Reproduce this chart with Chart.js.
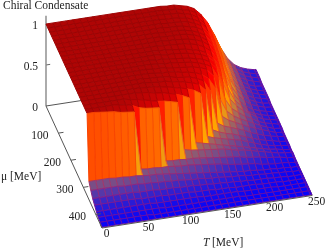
<!DOCTYPE html>
<html>
<head>
<meta charset="utf-8">
<title>Chiral Condensate</title>
<script src="https://cdn.jsdelivr.net/npm/chart.js@4"></script>
<style>
  html, body { margin: 0; padding: 0; background: #fff; }
  canvas { display: block; }
</style>
</head>
<body>
<canvas id="surface" width="327" height="250"></canvas>
<script>
const temps = [0,8,16,24,32,40,48,56,64,72,80,88,96,104,112,120,128,136,144,152,160,168,176,184,192,200,208,216,224,232,240,248,250];
const mus = [0,15,30,45,60,75,90,105,120,135,150,165,180,195,210,225,240,255,270,285,300,315,330,345,360,375,390,405,420,435,450];
// condensate in percent, one row per mu, one column per T
const condensate = [
  [100,100,100,100,100,100,100,100,100,100,100,100,100,100,100,100,100,100,99,99,97,95,91,83,72,56,38,24,15,10,7,5,5],
  [100,100,100,100,100,100,100,100,100,100,100,100,100,100,100,100,100,100,99,99,97,95,91,83,72,56,38,24,15,10,7,5,5],
  [100,100,100,100,100,100,100,100,100,100,100,100,100,100,100,100,100,100,99,99,97,95,90,82,71,55,37,24,15,10,7,5,5],
  [100,100,100,100,100,100,100,100,100,100,100,100,100,100,100,100,100,99,99,98,97,94,90,82,70,53,36,23,14,10,7,5,4],
  [100,100,100,100,100,100,100,100,100,100,100,100,100,100,100,100,100,99,99,98,97,94,90,81,69,52,35,22,14,9,6,5,4],
  [100,100,100,100,100,100,100,100,100,100,100,100,100,100,100,100,100,99,99,98,96,94,89,80,67,50,33,21,13,9,6,4,4],
  [100,100,100,100,100,100,100,100,100,100,100,100,100,100,100,100,99,99,99,98,96,93,88,78,65,47,31,20,13,9,6,4,4],
  [100,100,100,100,100,100,100,100,100,100,100,100,100,100,100,100,99,99,99,98,96,93,87,77,63,45,29,19,12,8,6,4,4],
  [100,100,100,100,100,100,100,100,100,100,100,100,100,100,100,100,99,99,98,97,95,92,86,75,60,43,28,18,12,8,5,4,3],
  [100,100,100,100,100,100,100,100,100,100,100,100,100,100,100,99,99,98,98,96,94,90,84,73,56,38,25,17,11,8,5,4,3],
  [100,100,100,100,100,100,100,100,100,100,100,100,100,100,99,99,98,97,96,94,92,88,81,70,52,34,23,15,10,7,5,3,3],
  [100,100,100,100,100,100,100,100,100,100,100,100,100,100,99,98,98,97,96,94,92,88,81,66,46,30,22,14,10,7,5,3,3],
  [100,100,100,100,100,100,100,100,100,100,100,100,100,99,99,98,97,96,95,93,91,87,78,58,38,28,21,16,11,7,5,3,3],
  [100,100,100,100,100,100,100,100,100,100,100,100,100,99,98,98,97,96,95,93,90,86,72,44,31,25,19,15,10,7,5,3,3],
  [100,100,100,100,100,100,100,100,100,100,100,100,99,99,98,97,96,95,94,92,89,80,50,34,27,22,18,14,10,7,4,3,3],
  [100,100,100,100,100,100,100,100,100,100,100,100,99,98,98,97,95,94,92,89,83,70,34,28,24,20,16,13,10,7,4,3,2],
  [100,100,100,100,100,100,100,100,100,100,100,99,99,98,97,95,94,93,90,86,73,32,27,24,21,18,14,11,8,6,4,3,2],
  [100,100,100,100,100,100,100,100,100,100,100,99,98,98,96,95,93,91,88,80,30,26,23,21,18,15,12,9,7,5,3,2,2],
  [100,100,100,100,100,100,100,100,100,100,99,99,97,96,94,92,90,87,82,28,25,23,21,19,17,14,11,8,6,4,3,2,2],
  [100,100,100,100,100,100,100,100,100,99,98,96,95,93,91,88,84,28,26,24,22,20,18,16,14,12,10,8,6,5,3,2,1],
  [100,100,100,100,100,100,100,98,97,95,93,91,90,88,86,27,25,24,23,22,21,20,18,16,15,13,11,9,7,5,4,3,2],
  [100,100,100,100,100,99,98,96,92,90,89,88,22,21,21,20,20,19,18,17,16,15,14,13,11,10,9,7,6,5,3,2,1],
  [100,100,99,98,97,95,94,93,22,21,21,20,20,19,18,18,17,16,15,14,13,11,10,9,8,7,5,4,3,3,2,1,1],
  [22,22,22,22,21,21,20,20,19,18,18,17,16,15,14,13,12,11,10,9,8,7,6,5,5,4,3,3,2,2,1,1,1],
  [16,16,16,16,16,15,15,15,14,14,13,13,12,12,11,10,10,9,8,8,7,6,6,5,4,4,3,3,2,2,1,1,1],
  [11,11,11,11,11,11,11,10,10,10,9,9,9,8,8,8,7,7,6,6,5,5,4,4,3,3,3,2,2,1,1,1,1],
  [8,8,8,8,8,8,8,7,7,7,7,6,6,6,6,5,5,5,4,4,4,3,3,3,3,2,2,2,1,1,1,1,1],
  [5,5,5,5,5,5,5,5,5,4,4,4,4,4,4,4,3,3,3,3,3,3,2,2,2,2,2,1,1,1,1,1,1],
  [3,3,3,3,3,3,3,3,3,3,2,2,2,2,2,2,2,2,2,2,2,2,1,1,1,1,1,1,1,1,1,1,1],
  [2,2,2,2,2,2,2,2,1,1,1,1,1,1,1,1,1,1,1,1,1,1,1,1,1,1,1,1,1,1,1,1,1],
  [1,1,1,1,1,1,1,1,1,1,1,1,1,1,1,1,1,1,1,1,1,1,1,1,1,1,1,1,1,1,1,1,1]
];
const zTicks = [0, 0.5, 1];
const muTicks = [100, 200, 300, 400];
const tTicks = [0, 50, 100, 150, 200, 250];

const T_MAX = 250, MU_MAX = 450;

// fixed view: orthographic, like the splot it comes from
function project(t, mu, z) {
  return {
    x: 46 + 210 * t / T_MAX + 56 * mu / MU_MAX,
    y: 106 - 32.5 * t / T_MAX + 122 * mu / MU_MAX - 82 * z
  };
}

const stops = [[0, [0, 0, 255]], [0.4, [255, 165, 0]], [0.8, [255, 0, 0]], [1, [175, 5, 5]]];
function palette(z) {
  for (let i = 1; i < stops.length; i++) {
    if (z <= stops[i][0]) {
      const a = stops[i - 1], b = stops[i];
      const f = (z - a[0]) / (b[0] - a[0]);
      return a[1].map((v, k) => Math.round(v + (b[1][k] - v) * f));
    }
  }
  return stops[stops.length - 1][1];
}
function rgb(c) {
  return "rgb(" + c.join(",") + ")";
}
// opaque mix so the gaps between neighbouring quads do not show white
function gridColor(z) {
  const face = palette(z);
  let tint = [215, 20, 70], a = 0.42;
  if (z > 0.85) { tint = [110, 0, 0]; a = 0.3; }
  else if (z > 0.45) { tint = [235, 40, 0]; a = 0.35; }
  return rgb(face.map((v, k) => Math.round(v + (tint[k] - v) * a)));
}

function line(points, color, width) {
  return { data: points, showLine: true, fill: false, borderColor: color, borderWidth: width, pointRadius: 0, clip: false };
}

// chart.js paints the first dataset last, so front things go first
const datasets = [];
const axisColor = "#555";
datasets.push(line([project(0, 0, 0), project(0, MU_MAX, 0)], axisColor, 1));
datasets.push(line([project(0, MU_MAX, 0), project(T_MAX, MU_MAX, 0)], axisColor, 1));
muTicks.forEach(m => datasets.push(line([project(0, m, 0), project(6, m, 0)], axisColor, 1)));

for (let i = mus.length - 2; i >= 0; i--) {
  for (let j = 0; j < temps.length - 1; j++) {
    const c = [condensate[i][j], condensate[i][j + 1], condensate[i + 1][j + 1], condensate[i + 1][j]].map(v => v / 100);
    const mean = (c[0] + c[1] + c[2] + c[3]) / 4;
    const a = project(temps[j], mus[i], c[0]);
    datasets.push({
      data: [a, project(temps[j + 1], mus[i], c[1]), project(temps[j + 1], mus[i + 1], c[2]), project(temps[j], mus[i + 1], c[3]), a],
      showLine: true,
      fill: "shape",
      backgroundColor: rgb(palette(mean)),
      borderColor: gridColor(mean),
      borderWidth: 1,
      pointRadius: 0,
      clip: false
    });
  }
}

tTicks.forEach(t => datasets.push(line([project(t, MU_MAX, 0), project(t, MU_MAX - 12, 0)], axisColor, 1)));
datasets.push(line([project(0, 0, 0), project(T_MAX, 0, 0)], axisColor, 1));
datasets.push(line([project(T_MAX, 0, 0), project(T_MAX, MU_MAX, 0)], axisColor, 1.2));
datasets.push(line([project(0, 0, 0), project(0, 0, 1.1)], "#888", 1.4));
datasets.push(line([project(0, 0, 0.5), project(5, 0, 0.5)], "#666", 1));

const textFont = "11.5px 'Liberation Serif'";
const labels = {
  id: "labels",
  afterDraw(chart) {
    const ctx = chart.ctx;
    const sx = chart.scales.x, sy = chart.scales.y;
    ctx.save();
    ctx.fillStyle = "#222";
    ctx.font = textFont;
    ctx.textBaseline = "middle";
    ctx.textAlign = "right";
    zTicks.forEach(v => {
      const p = project(0, 0, v);
      ctx.fillText(String(v), sx.getPixelForValue(p.x) - 8, sy.getPixelForValue(p.y) + 2);
    });
    ctx.textAlign = "center";
    muTicks.forEach(v => {
      const p = project(0, v, 0);
      ctx.fillText(String(v), sx.getPixelForValue(p.x) - 18.5, sy.getPixelForValue(p.y) + 3);
    });
    tTicks.forEach(v => {
      const p = project(v, MU_MAX, 0);
      ctx.fillText(String(v), sx.getPixelForValue(p.x) + 4.5, sy.getPixelForValue(p.y) + 6);
    });
    ctx.textAlign = "left";
    ctx.fillText("Chiral Condensate", 3, 6);
    ctx.fillText("μ [MeV]", 1, 177);
    ctx.font = "italic " + textFont;
    ctx.fillText("T", 203, 243);
    ctx.font = textFont;
    ctx.fillText("[MeV]", 212, 243);
    ctx.restore();
  }
};

new Chart(document.getElementById("surface"), {
  type: "scatter",
  data: { datasets: datasets },
  options: {
    responsive: false,
    animation: false,
    layout: { padding: 0 },
    events: [],
    plugins: { legend: { display: false }, tooltip: { enabled: false } },
    scales: {
      x: { type: "linear", min: 0, max: 327, display: false },
      y: { type: "linear", min: 0, max: 250, reverse: true, display: false }
    }
  },
  plugins: [labels]
});
</script>
</body>
</html>
